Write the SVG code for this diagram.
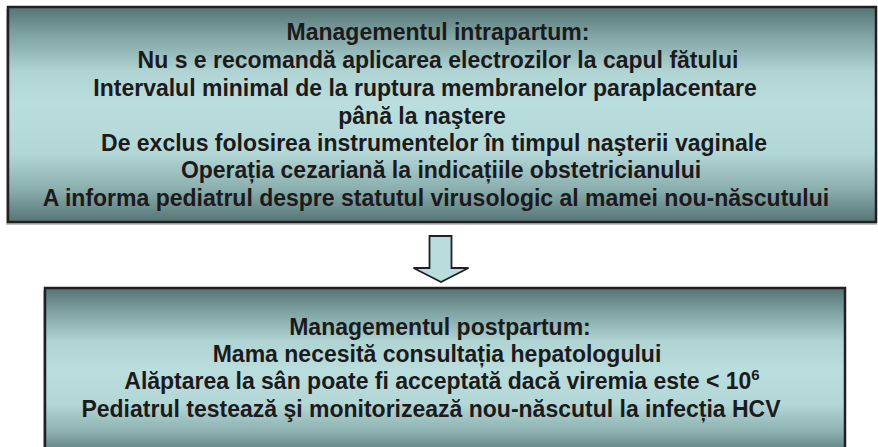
<svg xmlns="http://www.w3.org/2000/svg" width="878" height="447" viewBox="0 0 878 447">
  <defs>
    <linearGradient id="boxGrad" x1="0" y1="0" x2="0" y2="1">
      <stop offset="0" stop-color="#557474"/>
      <stop offset="0.12" stop-color="#7c9f9f"/>
      <stop offset="0.3" stop-color="#b0d4d4"/>
      <stop offset="0.45" stop-color="#badddd"/>
      <stop offset="0.68" stop-color="#b3d7d7"/>
      <stop offset="0.85" stop-color="#8aadad"/>
      <stop offset="1" stop-color="#567575"/>
    </linearGradient>
    <linearGradient id="boxGrad2" x1="0" y1="0" x2="0" y2="1">
      <stop offset="0" stop-color="#557474"/>
      <stop offset="0.14" stop-color="#7ea1a1"/>
      <stop offset="0.32" stop-color="#b0d4d4"/>
      <stop offset="0.5" stop-color="#badddd"/>
      <stop offset="0.7" stop-color="#b3d7d7"/>
      <stop offset="0.87" stop-color="#8cafaf"/>
      <stop offset="1" stop-color="#5a7a7a"/>
    </linearGradient>
  </defs>
  <style>
    .box { stroke: #231f20; stroke-width: 2.5; }
    .shadow { fill: #9a9a9a; opacity: 0.6; }
    .t { font-family: "Liberation Sans", Arial, sans-serif; font-weight: bold; font-size: 23px; fill: #1c1a1b; text-anchor: middle; }
    .arrow { fill: #b9dcdc; stroke: #231f20; stroke-width: 1.8; stroke-linejoin: miter; }
  </style>
  <rect width="878" height="447" fill="#ffffff"/>

  <g id="intrapartum">
    <rect class="shadow" x="6" y="9" width="871" height="216"/>
    <rect class="box" x="8" y="7" width="868" height="215" fill="url(#boxGrad)"/>
    <text class="t" x="438" y="40">Managementul intrapartum:</text>
    <text class="t" x="438" y="68">Nu s e recomandă aplicarea electrozilor la capul fătului</text>
    <text class="t" x="425" y="96">Intervalul minimal de la ruptura membranelor paraplacentare</text>
    <text class="t" x="422" y="124">până la naştere</text>
    <text class="t" x="434" y="151">De exclus folosirea instrumentelor în timpul naşterii vaginale</text>
    <text class="t" x="441" y="178">Operația cezariană la indicațiile obstetricianului</text>
    <text class="t" x="436" y="206">A informa pediatrul despre statutul virusologic al mamei nou-născutului</text>
  </g>

  <g id="connectors">
    <polygon class="arrow" points="429.5,236 451.5,236 451.5,268 468.5,268 441,282 413.5,268 429.5,268"/>
  </g>

  <g id="postpartum">
    <rect class="shadow" x="43" y="290" width="803" height="170"/>
    <rect class="box" x="45" y="288" width="800" height="166" fill="url(#boxGrad2)"/>
    <text class="t" x="440" y="335">Managementul postpartum:</text>
    <text class="t" x="437" y="362">Mama necesită consultația hepatologului</text>
    <text class="t" x="442" y="389">Alăptarea la sân poate fi acceptată dacă viremia este &lt; 10<tspan font-size="15" dy="-9">6</tspan></text>
    <text class="t" x="431" y="417">Pediatrul testează şi monitorizează nou-născutul la infecția HCV</text>
  </g>
</svg>
